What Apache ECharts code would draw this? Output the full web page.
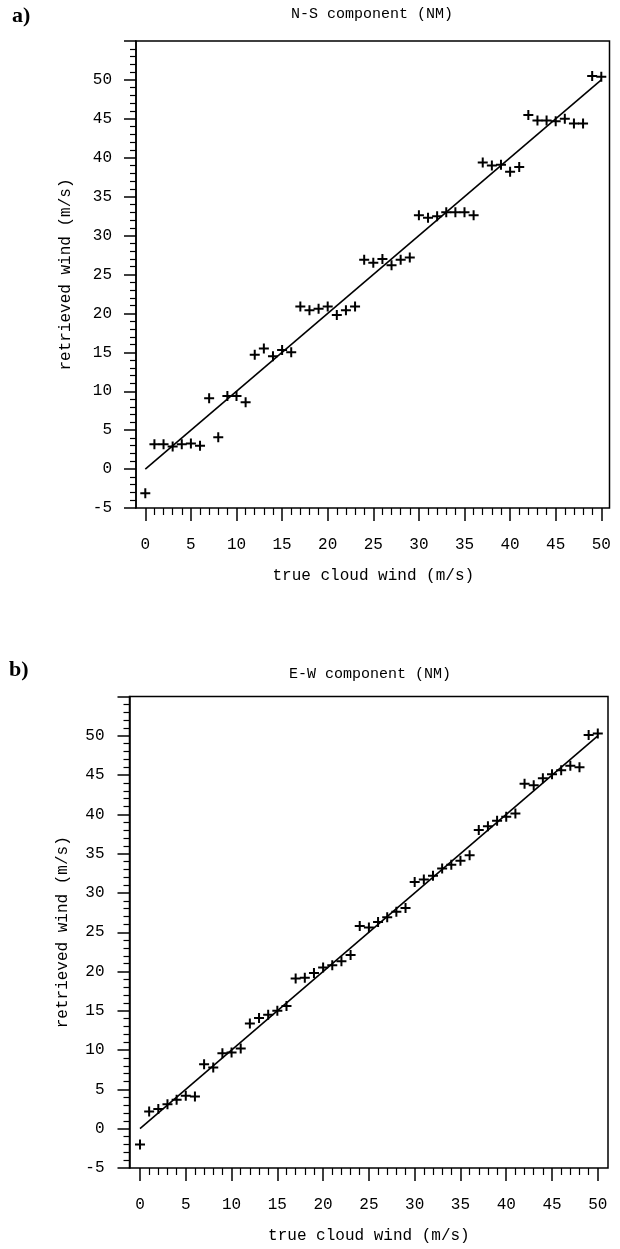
<!DOCTYPE html>
<html><head><meta charset="utf-8">
<script src="https://cdn.jsdelivr.net/npm/echarts@6/dist/echarts.min.js"></script>
<style>html,body{margin:0;padding:0;background:#fff}#c{width:620px;height:1249px}</style>
</head><body><div id="c"></div>
<script>
// ---- data ----
const trueWind = [0,1,2,3,4,5,6,7,8,9,10,11,12,13,14,15,16,17,18,19,20,21,22,23,24,25,26,27,28,29,30,31,32,33,34,35,36,37,38,39,40,41,42,43,44,45,46,47,48,49,50];
const nsRetrieved = [-3.1,3.2,3.2,2.9,3.2,3.3,3.0,9.1,4.1,9.4,9.4,8.6,14.7,15.5,14.5,15.3,15.0,20.9,20.4,20.6,20.9,19.8,20.4,20.9,26.9,26.5,27.0,26.2,26.9,27.2,32.6,32.3,32.5,33.0,33.0,33.0,32.6,39.4,39.0,39.1,38.2,38.8,45.5,44.8,44.8,44.7,45.0,44.4,44.4,50.5,50.4];
const ewRetrieved = [-2.0,2.2,2.5,3.1,3.7,4.2,4.1,8.2,7.8,9.6,9.7,10.2,13.4,14.1,14.5,15.0,15.6,19.1,19.2,19.8,20.5,20.8,21.3,22.1,25.8,25.6,26.3,26.9,27.6,28.1,31.4,31.7,32.2,33.1,33.6,34.1,34.8,38.0,38.5,39.2,39.7,40.1,43.9,43.7,44.6,45.1,45.6,46.2,46.0,50.1,50.3];
const fitLineX = [0, 50];
const fitLineY = [0, 50];
const xTickRange = [0, 50];   // labelled x ticks 0,5,...,50
const yTickRange = [-5, 55];  // y ticks -5,0,...,50 (55 at frame top, unlabelled)
const tickStep = 5;
const titles = ['N-S component (NM)', 'E-W component (NM)'];
const panelLetters = ['a)', 'b)'];
const xName = 'true cloud wind (m/s)';
const yName = 'retrieved wind (m/s)';

// ---- chart ----
const MONO = '"Liberation Mono", "DejaVu Sans Mono", monospace';
const plusSym = 'path://M4,0H6V10H4ZM0,4H10V6H0Z';
const panels = [
  {frame:{left:136, top:41, width:473.5, height:467}, ticks:{left:145.3, top:41, width:456, height:467},
   data:nsRetrieved, xGap:60, yGap:62, xMargin:29, yMargin:24},
  {frame:{left:129.5, top:696.5, width:478.5, height:471.5}, ticks:{left:140, top:696.5, width:457.8, height:471.5},
   data:ewRetrieved, xGap:60, yGap:59, xMargin:29, yMargin:25}
];
const grids = [], xAxes = [], yAxes = [], series = [];
panels.forEach((p, i) => {
  const gFrame = grids.length;
  grids.push(Object.assign({show:true, borderColor:'#000', borderWidth:1.5}, p.frame));
  const gTick = grids.length;
  grids.push(Object.assign({show:false}, p.ticks));

  // frame grid: hidden x, visible y axis
  const xFrame = xAxes.length;
  xAxes.push({type:'value', gridIndex:gFrame, min:xTickRange[0], max:xTickRange[1], show:false});
  yAxes.push({
    type:'value', gridIndex:gFrame, min:yTickRange[0], max:yTickRange[1], interval:tickStep,
    name:yName, nameLocation:'middle', nameGap:p.yGap, nameRotate:90,
    nameTextStyle:{fontFamily:MONO, fontSize:16, color:'#000'},
    axisLine:{show:true, onZero:false, lineStyle:{color:'#000', width:1.5}},
    axisTick:{show:true, length:12, lineStyle:{color:'#000', width:1.5}},
    minorTick:{show:true, splitNumber:5, length:6, lineStyle:{color:'#000', width:1.2}},
    axisLabel:{show:true, showMaxLabel:false, margin:p.yMargin, fontFamily:MONO, fontSize:16, color:'#000'},
    splitLine:{show:false}, minorSplitLine:{show:false}
  });
  // tick grid: visible x ticks (0..50), hidden y for plotting
  const xData = xAxes.length;
  xAxes.push({
    type:'value', gridIndex:gTick, position:'bottom', min:xTickRange[0], max:xTickRange[1], interval:tickStep,
    name:xName, nameLocation:'middle', nameGap:p.xGap,
    nameTextStyle:{fontFamily:MONO, fontSize:16, color:'#000'},
    axisLine:{show:false, onZero:false},
    axisTick:{show:true, length:13, lineStyle:{color:'#000', width:1.5}},
    minorTick:{show:true, splitNumber:5, length:7, lineStyle:{color:'#000', width:1.2}},
    axisLabel:{show:true, margin:p.xMargin, fontFamily:MONO, fontSize:16, color:'#000'},
    splitLine:{show:false}, minorSplitLine:{show:false}
  });
  const yData = yAxes.length;
  yAxes.push({type:'value', gridIndex:gTick, min:yTickRange[0], max:yTickRange[1], show:false});

  series.push({
    type:'line', xAxisIndex:xData, yAxisIndex:yData, data:fitLineX.map((x,k)=>[x, fitLineY[k]]),
    symbol:'none', lineStyle:{color:'#000', width:1.6}, silent:true, z:2
  });
  series.push({
    type:'scatter', xAxisIndex:xData, yAxisIndex:yData, data:trueWind.map((x,k)=>[x, p.data[k]]),
    symbol:plusSym, symbolSize:10, itemStyle:{color:'#000', opacity:1}, z:3
  });
});

const chart = echarts.init(document.getElementById('c'), null, {renderer:'canvas'});
chart.setOption({
  animation:false,
  backgroundColor:'#fff',
  grid:grids, xAxis:xAxes, yAxis:yAxes, series:series,
  graphic:[
    {type:'text', left:12, top:5, style:{text:panelLetters[0], font:'bold 22px "Liberation Serif", serif', fill:'#000'}},
    {type:'text', x:372, y:14, style:{text:titles[0], font:'15px ' + MONO, fill:'#000', align:'center', verticalAlign:'middle'}},
    {type:'text', left:9, top:659, style:{text:panelLetters[1], font:'bold 22px "Liberation Serif", serif', fill:'#000'}},
    {type:'text', x:370, y:674, style:{text:titles[1], font:'15px ' + MONO, fill:'#000', align:'center', verticalAlign:'middle'}}
  ]
});
</script>
</body></html>
